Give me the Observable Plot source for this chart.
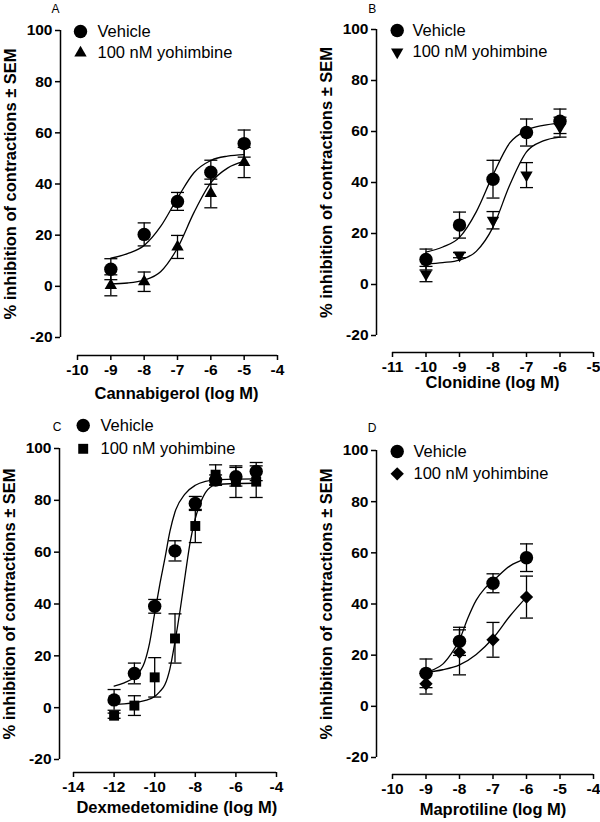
<!DOCTYPE html>
<html>
<head>
<meta charset="utf-8">
<script src="https://cdn.jsdelivr.net/npm/d3@7"></script>
<script src="https://cdn.jsdelivr.net/npm/@observablehq/plot@0.6"></script>
<style>
  body { margin: 0; background: #fff; }
  #fig { position: relative; width: 600px; height: 822px; font-family: "Liberation Sans", Arial, sans-serif; background: #fff; }
</style>
</head>
<body>
<div id="fig"></div>
<script>
// ---------- shared ----------
const yDomain = [-20, 100];
const yTicks = [-20, 0, 20, 40, 60, 80, 100];
const yTitle = "% inhibition of contractions \u00b1 SEM";
const seriesNames = ["Vehicle", "100 nM yohimbine"];

// ---------- Panel A: Cannabigerol ----------
const doseA = [-9, -8, -7, -6, -5];
const vehA = [6.7, 20.3, 33.2, 44.6, 55.8];
const vehSemA = [4.1, 4.5, 3.5, 4.7, 5.3];
const yohA = [0.4, 1.8, 15.4, 36.3, 48.4];
const yohSemA = [4.1, 3.8, 4.5, 5.6, 5.9];
const fitXA = [-9, -8.5, -8, -7.5, -7, -6.5, -6, -5.5, -5];
const fitVehA = [11, 12.8, 16, 23.5, 34.5, 44.5, 49.2, 50.9, 51.5];
const fitYohA = [1.0, 1.3, 2.4, 5.8, 15, 29, 40.5, 46.2, 48.8];
const xTicksA = [-10, -9, -8, -7, -6, -5, -4];

// ---------- Panel B: Clonidine ----------
const doseB = [-10, -9, -8, -7, -6];
const vehB = [9.8, 23.3, 41.3, 59.6, 64];
const vehSemB = [4.1, 5.1, 7.4, 5.3, 4.8];
const yohB = [4.1, 11.5, 25.2, 42.9, 61.7];
const yohSemB = [3.0, 1.0, 3.4, 4.9, 3.9];
const fitXB = [-10, -9.5, -9, -8.5, -8, -7.5, -7, -6.5, -6];
const fitVehB = [12.7, 14.7, 18.5, 28.5, 43, 55.5, 60.5, 62.4, 63.3];
const fitYohB = [8, 8.6, 9.6, 13, 22.5, 39, 52, 56.3, 57.8];
const xTicksB = [-11, -10, -9, -8, -7, -6, -5];

// ---------- Panel C: Dexmedetomidine ----------
const doseC = [-12, -11, -10, -9, -8, -7, -6, -5];
const vehC = [3.0, 13.2, 39.1, 60.5, 78.8, 87.8, 89.1, 91.1];
const vehSemC = [4.0, 4.0, 2.65, 3.9, 2.7, 2.0, 3.6, 3.5];
const yohC = [-3.1, 0.8, 11.7, 26.7, 70.1, 89.9, 87.2, 87.2];
const yohSemC = [1.0, 3.8, 7.6, 9.5, 6.4, 3.8, 6.1, 6.1];
const fitXVehC = [-12, -11.5, -11, -10.5, -10.25, -10, -9.75, -9.5, -9.25, -9, -8.5, -8, -7.5, -7, -6, -5];
const fitVehC = [8.3, 9.6, 11.8, 17.5, 25, 36.5, 47.5, 57.5, 68, 75.5, 82.5, 85.8, 87.3, 87.9, 88.2, 88.3];
const fitXYohC = [-12, -11.5, -11, -10.5, -10, -9.75, -9.5, -9.25, -9, -8.75, -8.5, -8.25, -8, -7.75, -7.5, -7, -6, -5];
const fitYohC = [1.3, 1.5, 1.9, 2.7, 4.3, 6.2, 8.8, 15, 25.5, 37.5, 51, 64, 73, 79, 83, 86, 86.5, 86.6];
const xTicksC = [-14, -12, -10, -8, -6, -4];

// ---------- Panel D: Maprotiline ----------
const doseD = [-9, -8, -7, -6];
const vehD = [12.9, 25.4, 48.1, 58.1];
const vehSemD = [5.6, 5.5, 3.7, 5.4];
const yohD = [8.8, 21.1, 26.0, 42.7];
const yohSemD = [4.0, 8.8, 6.8, 8.2];
const fitXVehD = [-9, -8.75, -8.5, -8.25, -8, -7.75, -7.5, -7.25, -7, -6.5, -6];
const fitVehD = [13.3, 14.5, 16.5, 20.5, 26, 34.5, 41.5, 46, 49, 54.8, 57.7];
const fitXYohD = [-9, -8.5, -8, -7.5, -7, -6.5, -6];
const fitYohD = [13.3, 14.3, 16.2, 20.3, 26.6, 35.2, 42.7];
const xTicksD = [-10, -9, -8, -7, -6, -5, -4];

// ---------- symbols ----------
const triangleDown = {
  draw(ctx, size) {
    const y = -Math.sqrt(size / (Math.sqrt(3) * 3));
    ctx.moveTo(0, -y * 2);
    ctx.lineTo(-Math.sqrt(3) * y, y);
    ctx.lineTo(Math.sqrt(3) * y, y);
    ctx.closePath();
  }
};
const capSymbol = {
  draw(ctx) { ctx.moveTo(-6.5, 0); ctx.lineTo(6.5, 0); }
};

const panels = [
  {
    letter: "A", left: 0, top: 0, xTitle: "Cannabigerol (log M)",
    xDomain: [-10, -4], xTicks: xTicksA,
    dose: doseA, veh: vehA, vehSem: vehSemA, yoh: yohA, yohSem: yohSemA,
    fitXVeh: fitXA, fitVeh: fitVehA, fitXYoh: fitXA, fitYoh: fitYohA,
    yohSymbol: "triangle", yohR: 4.6,
    L: {ml: 60, mr: 23, mt: 30, mb: 56, il: 17, ib: 18, titleCx: 176, titleDy: 38,
        letter: [55, 8.5], legX: 80, legY: [31, 52.5], legTx: 97}
  },
  {
    letter: "B", left: 300, top: 0, xTitle: "Clonidine (log M)",
    xDomain: [-11, -5], xTicks: xTicksB,
    dose: doseB, veh: vehB, vehSem: vehSemB, yoh: yohB, yohSem: yohSemB,
    fitXVeh: fitXB, fitVeh: fitVehB, fitXYoh: fitXB, fitYoh: fitYohB,
    yohSymbol: triangleDown, yohR: 4.6,
    L: {ml: 76, mr: 7, mt: 29, mb: 59, il: 16, ib: 17, titleCx: 192, titleDy: 30,
        letter: [71.7, 8.3], legX: 96.7, legY: [30, 51.7], legTx: 112}
  },
  {
    letter: "C", left: 0, top: 411, xTitle: "Dexmedetomidine (log M)",
    xDomain: [-14, -4], xTicks: xTicksC,
    dose: doseC, veh: vehC, vehSem: vehSemC, yoh: yohC, yohSem: yohSemC,
    fitXVeh: fitXVehC, fitVeh: fitVehC, fitXYoh: fitXYohC, fitYoh: fitYohC,
    yohSymbol: "square", yohR: 5.6,
    L: {ml: 59, mr: 24, mt: 37, mb: 50, il: 14, ib: 13, titleCx: 176.3, titleDy: 35.7,
        letter: [56.7, 16], legX: 82.7, legY: [14, 37.3], legTx: 100}
  },
  {
    letter: "D", left: 300, top: 411, xTitle: "Maprotiline (log M)",
    xDomain: [-10, -4], xTicks: xTicksD,
    dose: doseD, veh: vehD, vehSem: vehSemD, yoh: yohD, yohSem: yohSemD,
    fitXVeh: fitXVehD, fitVeh: fitVehD, fitXYoh: fitXYohD, fitYoh: fitYohD,
    yohSymbol: "diamond2", yohR: 6,
    L: {ml: 76, mr: 7, mt: 39, mb: 48, il: 16, ib: 17, titleCx: 192.5, titleDy: 35,
        letter: [71.7, 16.7], legX: 96.7, legY: [40, 62.3], legTx: 113}
  }
];

const W = 300, H = 411;
const FONT = "'Liberation Sans', Arial, Helvetica, sans-serif";

function rows(dose, mean, sem) {
  return dose.map((x, i) => ({x, y: mean[i], lo: mean[i] - sem[i], hi: mean[i] + sem[i]}));
}
function curve(xs, ys) {
  return xs.map((x, i) => ({x, y: ys[i]}));
}

function makePanel(p) {
  const L = p.L;
  const at = (px, py) => ({frameAnchor: "top-left", dx: px - L.ml, dy: py - L.mt});
  const veh = rows(p.dose, p.veh, p.vehSem);
  const yoh = rows(p.dose, p.yoh, p.yohSem);
  const cVeh = curve(p.fitXVeh, p.fitVeh);
  const cYoh = curve(p.fitXYoh, p.fitYoh);
  const frameCx = (L.ml + W - L.mr) / 2;
  const errMarks = (data) => [
    Plot.ruleX(data, {x: "x", y1: "lo", y2: "hi", stroke: "black", strokeWidth: 1.3}),
    Plot.dot(data, {x: "x", y: "hi", symbol: capSymbol, r: 3, fill: "none", stroke: "black", strokeWidth: 1.3}),
    Plot.dot(data, {x: "x", y: "lo", symbol: capSymbol, r: 3, fill: "none", stroke: "black", strokeWidth: 1.3})
  ];
  return Plot.plot({
    width: W, height: H,
    marginLeft: L.ml, marginRight: L.mr, marginTop: L.mt, marginBottom: L.mb,
    style: {fontFamily: FONT, background: "transparent", color: "black", overflow: "visible"},
    x: {type: "linear", domain: p.xDomain, insetLeft: L.il},
    y: {type: "linear", domain: yDomain, insetBottom: L.ib},
    marks: [
      // axis lines
      Plot.ruleX([p.xDomain[0]], {y1: yDomain[0], y2: yDomain[1], dx: -L.il, stroke: "black", strokeWidth: 1.5}),
      Plot.ruleY([yDomain[0]], {x1: p.xDomain[0], x2: p.xDomain[1], dy: L.ib, stroke: "black", strokeWidth: 1.5}),
      Plot.axisY(yTicks, {tickSize: 5, tickPadding: 3, strokeWidth: 1.5, fontSize: 15.5, fontWeight: "bold", label: null, tickFormat: d => String(d)}),
      Plot.axisX(p.xTicks, {tickSize: 5, tickPadding: 3, strokeWidth: 1.5, fontSize: 15.5, fontWeight: "bold", label: null, tickFormat: d => String(d)}),
      // titles
      Plot.text([p.xTitle], {frameAnchor: "bottom", lineAnchor: "middle", dx: L.titleCx - frameCx, dy: L.titleDy, fontSize: 16.5, fontWeight: "bold", textAnchor: "middle"}),
      Plot.text([yTitle], {frameAnchor: "left", lineAnchor: "middle", rotate: -90, dx: -50, dy: -L.ib / 2, fontSize: 16.5, fontWeight: "bold", textAnchor: "middle"}),
      Plot.text([p.letter], {...at(L.letter[0], L.letter[1]), lineAnchor: "middle", fontSize: 12, textAnchor: "middle"}),
      // fitted curves
      Plot.line(cVeh, {x: "x", y: "y", curve: "monotone-x", stroke: "black", strokeWidth: 1.3}),
      Plot.line(cYoh, {x: "x", y: "y", curve: "monotone-x", stroke: "black", strokeWidth: 1.3}),
      // error bars
      ...errMarks(veh),
      ...errMarks(yoh),
      // points
      Plot.dot(veh, {x: "x", y: "y", symbol: "circle", r: 6.7, fill: "black", stroke: "none"}),
      Plot.dot(yoh, {x: "x", y: "y", symbol: p.yohSymbol, r: p.yohR, fill: "black", stroke: "none"}),
      // legend
      Plot.dot([seriesNames[0]], {x: null, y: null, ...at(L.legX, L.legY[0]), symbol: "circle", r: 6.7, fill: "black", stroke: "none"}),
      Plot.dot([seriesNames[1]], {x: null, y: null, ...at(L.legX, L.legY[1]), symbol: p.yohSymbol, r: p.yohR, fill: "black", stroke: "none"}),
      Plot.text([seriesNames[0]], {...at(L.legTx, L.legY[0]), lineAnchor: "middle", fontSize: 16.5, textAnchor: "start"}),
      Plot.text([seriesNames[1]], {...at(L.legTx, L.legY[1]), lineAnchor: "middle", fontSize: 16.5, textAnchor: "start"})
    ]
  });
}

const fig = document.getElementById("fig");
for (const p of panels) {
  const el = makePanel(p);
  el.style.position = "absolute";
  el.style.left = p.left + "px";
  el.style.top = p.top + "px";
  fig.appendChild(el);
}
</script>
</body>
</html>
